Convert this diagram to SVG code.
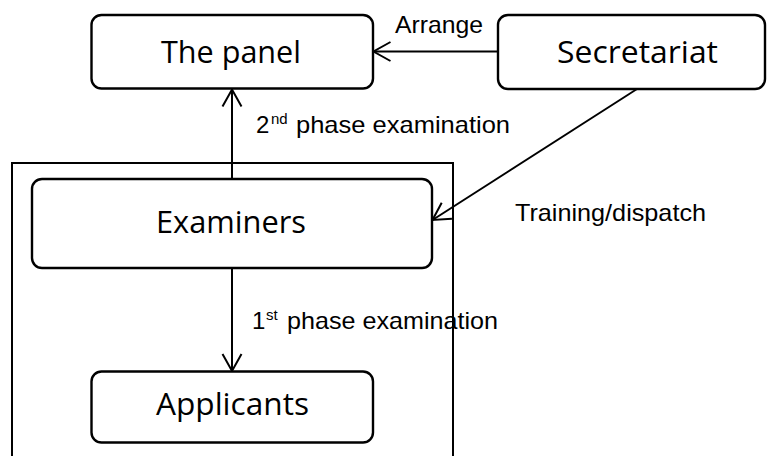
<svg xmlns="http://www.w3.org/2000/svg" width="767" height="456" viewBox="0 0 767 456">
  <style>
    .box { fill: #ffffff; stroke: #000000; stroke-width: 2.4; }
    .frame { fill: none; stroke: #000000; stroke-width: 2; }
    .conn { fill: none; stroke: #000000; stroke-width: 2; }
    .main { font-family: "Open Sans", "Noto Sans", sans-serif; font-size: 31px; fill: #000000; }
    .lbl { font-family: "Liberation Sans", Arial, sans-serif; font-size: 24px; fill: #000000; }
    .sup { font-family: "Liberation Sans", Arial, sans-serif; font-size: 15px; fill: #000000; }
  </style>
  <defs>
    <marker id="arrow" markerUnits="userSpaceOnUse" markerWidth="24" markerHeight="24" viewBox="-20 -12 24 24" refX="0" refY="0" orient="auto">
      <path d="M-17,-9.5 L0,0 L-17,9.5" fill="none" stroke="#000000" stroke-width="2"/>
    </marker>
  </defs>

  <g id="frame">
    <path class="frame" d="M12,470 V163 H453 V470"/>
  </g>

  <g id="connectors">
    <line class="conn" x1="498" y1="51.5" x2="373.5" y2="51.5" marker-end="url(#arrow)"/>
    <line class="conn" x1="232" y1="179" x2="232" y2="89.5" marker-end="url(#arrow)"/>
    <line class="conn" x1="637" y1="89" x2="432.5" y2="220" marker-end="url(#arrow)"/>
    <line class="conn" x1="232" y1="268" x2="232" y2="371" marker-end="url(#arrow)"/>
  </g>

  <g id="node-panel">
    <rect class="box" x="91.5" y="15" width="281.5" height="73.5" rx="10" ry="10"/>
    <text class="main" x="161" y="63" textLength="140" lengthAdjust="spacingAndGlyphs">The panel</text>
  </g>

  <g id="node-secretariat">
    <rect class="box" x="498" y="15" width="267" height="74" rx="10" ry="10"/>
    <text class="main" x="557" y="63" textLength="161" lengthAdjust="spacingAndGlyphs">Secretariat</text>
  </g>

  <g id="node-examiners">
    <rect class="box" x="32" y="179" width="400" height="89" rx="10" ry="10"/>
    <text class="main" x="156" y="233" textLength="150" lengthAdjust="spacingAndGlyphs">Examiners</text>
  </g>

  <g id="node-applicants">
    <rect class="box" x="91.5" y="371.5" width="281.5" height="71" rx="10" ry="10"/>
    <text class="main" x="156" y="415" textLength="153" lengthAdjust="spacingAndGlyphs">Applicants</text>
  </g>

  <g id="labels">
    <text class="lbl" x="395" y="33" textLength="88" lengthAdjust="spacingAndGlyphs">Arrange</text>
    <text class="lbl" x="256" y="133">2</text>
    <text class="sup" x="271" y="124">nd</text>
    <text class="lbl" x="296" y="133" textLength="214" lengthAdjust="spacingAndGlyphs">phase examination</text>
    <text class="lbl" x="515" y="221" textLength="191" lengthAdjust="spacingAndGlyphs">Training/dispatch</text>
    <text class="lbl" x="252" y="329">1</text>
    <text class="sup" x="266" y="320">st</text>
    <text class="lbl" x="287" y="329" textLength="211" lengthAdjust="spacingAndGlyphs">phase examination</text>
  </g>
</svg>
